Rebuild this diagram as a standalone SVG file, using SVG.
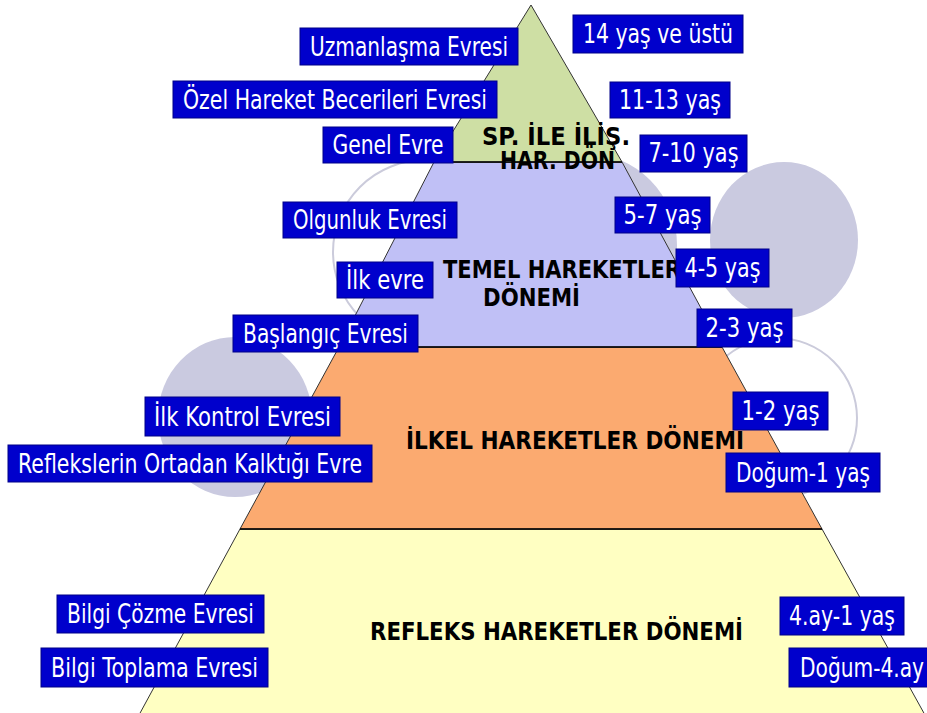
<svg xmlns="http://www.w3.org/2000/svg" width="927" height="713" viewBox="0 0 927 713">
<style>
.bg{fill:#ffffff}
.disk{fill:#CACAE0}
.ring{fill:#ffffff;stroke:#CBCBDB;stroke-width:2}
.tier{stroke:#333333;stroke-width:1}
.sep{stroke:#000000;stroke-width:1.5}
.box rect{fill:#0000CC;stroke:#000088;stroke-width:1}
.box text{fill:#ffffff;font-family:"DejaVu Sans","Liberation Sans",sans-serif;font-size:26px;text-anchor:middle}
.title{fill:#000000;font-family:"DejaVu Sans","Liberation Sans",sans-serif;font-weight:bold;font-size:24px}
</style>
<rect class="bg" x="0" y="0" width="927" height="713"/>
<g id="decor">
  <circle class="ring" cx="425" cy="252" r="92"/>
  <circle class="disk" cx="585" cy="245" r="92"/>
  <ellipse class="disk" cx="784" cy="240" rx="74" ry="78"/>
  <circle class="ring" cx="777" cy="418" r="80"/>
  <ellipse class="disk" cx="235" cy="417" rx="77" ry="80"/>
</g>
<g id="pyramid">
  <g id="tier-reflex">
    <polygon class="tier" fill="#FFFFC2" points="240,529 822,529 925,715 139,715"/>
    <text class="title" x="370" y="640" textLength="373" lengthAdjust="spacingAndGlyphs">REFLEKS HAREKETLER DÖNEMİ</text>
  </g>
  <g id="tier-ilkel">
    <polygon class="tier" fill="#FBAA70" points="339,347 722,347 822,529 240,529"/>
    <text class="title" x="406" y="449" textLength="338" lengthAdjust="spacingAndGlyphs">İLKEL HAREKETLER DÖNEMİ</text>
  </g>
  <g id="tier-temel">
    <polygon class="tier" fill="#C0C0F6" points="434,162 622,162 722,347 339,347"/>
    <text class="title" x="443" y="278" textLength="238" lengthAdjust="spacingAndGlyphs">TEMEL HAREKETLER</text>
    <text class="title" x="483" y="306" textLength="97" lengthAdjust="spacingAndGlyphs">DÖNEMİ</text>
  </g>
  <g id="tier-sport">
    <polygon class="tier" fill="#CEDFA4" points="531,5 622,162 434,162"/>
    <text class="title" x="482" y="145" textLength="148" lengthAdjust="spacingAndGlyphs">SP. İLE İLİŞ.</text>
    <text class="title" x="500" y="169" textLength="115" lengthAdjust="spacingAndGlyphs">HAR. DÖN</text>
  </g>
</g>
<g id="connectors">
  <line class="sep" x1="434" y1="162" x2="622" y2="162"/>
  <line class="sep" x1="339" y1="347" x2="722" y2="347"/>
  <line class="sep" x1="240" y1="529" x2="822" y2="529"/>
</g>
<g id="label-uzman" class="box"><rect x="300" y="28" width="218" height="37"/><text x="409" y="56" textLength="198" lengthAdjust="spacingAndGlyphs">Uzmanlaşma Evresi</text></g>
<g id="label-ozel" class="box"><rect x="173" y="81" width="324" height="37"/><text x="335" y="109" textLength="304" lengthAdjust="spacingAndGlyphs">Özel Hareket Becerileri Evresi</text></g>
<g id="label-genel" class="box"><rect x="323" y="127" width="130" height="36"/><text x="388" y="154" textLength="111" lengthAdjust="spacingAndGlyphs">Genel Evre</text></g>
<g id="label-olgunluk" class="box"><rect x="283" y="202" width="174" height="36"/><text x="370" y="229" textLength="154" lengthAdjust="spacingAndGlyphs">Olgunluk Evresi</text></g>
<g id="label-ilkevre" class="box"><rect x="337" y="262" width="96" height="36"/><text x="385" y="289" textLength="78" lengthAdjust="spacingAndGlyphs">İlk evre</text></g>
<g id="label-baslangic" class="box"><rect x="233" y="315" width="185" height="37"/><text x="325.5" y="343" textLength="165" lengthAdjust="spacingAndGlyphs">Başlangıç Evresi</text></g>
<g id="label-ilkkontrol" class="box"><rect x="145" y="397" width="195" height="39"/><text x="242.5" y="426" textLength="177" lengthAdjust="spacingAndGlyphs">İlk Kontrol Evresi</text></g>
<g id="label-refleks" class="box"><rect x="8" y="445" width="364" height="37"/><text x="190" y="473" textLength="344" lengthAdjust="spacingAndGlyphs">Reflekslerin Ortadan Kalktığı Evre</text></g>
<g id="label-bilgicozme" class="box"><rect x="57" y="595" width="207" height="38"/><text x="160.5" y="623" textLength="187" lengthAdjust="spacingAndGlyphs">Bilgi Çözme Evresi</text></g>
<g id="label-bilgitoplama" class="box"><rect x="41" y="648" width="227" height="39"/><text x="154.5" y="677" textLength="207" lengthAdjust="spacingAndGlyphs">Bilgi Toplama Evresi</text></g>
<g id="age-14" class="box"><rect x="573" y="15" width="170" height="38"/><text x="658" y="43" textLength="150" lengthAdjust="spacingAndGlyphs">14 yaş ve üstü</text></g>
<g id="age-11-13" class="box"><rect x="610" y="82" width="120" height="36"/><text x="670" y="109" textLength="102" lengthAdjust="spacingAndGlyphs">11-13 yaş</text></g>
<g id="age-7-10" class="box"><rect x="640" y="135" width="107" height="37"/><text x="693.5" y="162" textLength="90" lengthAdjust="spacingAndGlyphs">7-10 yaş</text></g>
<g id="age-5-7" class="box"><rect x="615" y="197" width="95" height="36"/><text x="662.5" y="224" textLength="78" lengthAdjust="spacingAndGlyphs">5-7 yaş</text></g>
<g id="age-4-5" class="box"><rect x="676" y="249" width="93" height="38"/><text x="722.5" y="277" textLength="76" lengthAdjust="spacingAndGlyphs">4-5 yaş</text></g>
<g id="age-2-3" class="box"><rect x="697" y="309" width="95" height="38"/><text x="744.5" y="337" textLength="78" lengthAdjust="spacingAndGlyphs">2-3 yaş</text></g>
<g id="age-1-2" class="box"><rect x="733" y="392" width="95" height="38"/><text x="780.5" y="420" textLength="78" lengthAdjust="spacingAndGlyphs">1-2 yaş</text></g>
<g id="age-0-1" class="box"><rect x="726" y="453" width="154" height="39"/><text x="803" y="482" textLength="134" lengthAdjust="spacingAndGlyphs">Doğum-1 yaş</text></g>
<g id="age-4ay-1" class="box"><rect x="780" y="597" width="124" height="38"/><text x="842" y="625" textLength="106" lengthAdjust="spacingAndGlyphs">4.ay-1 yaş</text></g>
<g id="age-0-4ay" class="box"><rect x="789" y="648" width="145" height="39"/><text x="800" y="677" textLength="124" lengthAdjust="spacingAndGlyphs" style="text-anchor:start">Doğum-4.ay</text></g>
</svg>
